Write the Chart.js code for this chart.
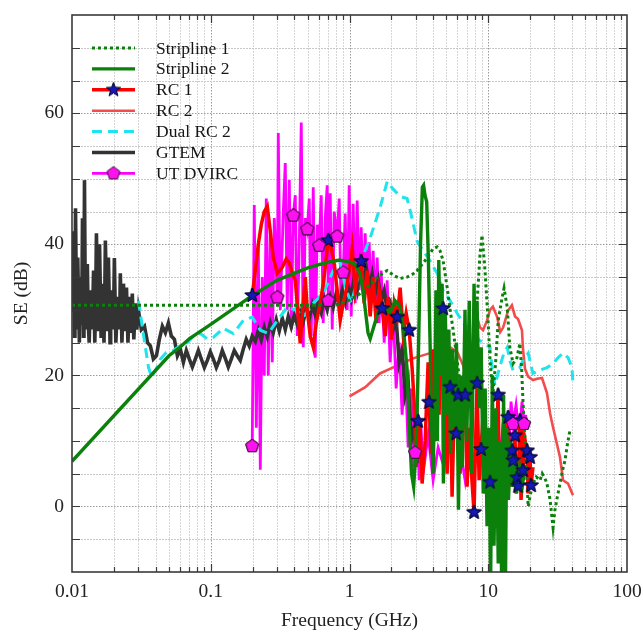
<!DOCTYPE html>
<html>
<head>
<meta charset="utf-8">
<script src="https://cdn.jsdelivr.net/npm/chart.js@4.4.1/dist/chart.umd.min.js"></script>
<style>
  html, body { margin: 0; padding: 0; background: #fff; }
</style>
</head>
<body>
<canvas id="se" width="644" height="631"></canvas>
<script>
// ---- data: [frequency GHz, shielding effectiveness dB] ----
const xTickLabels = ['0.01', '0.1', '1', '10', '100'];
const yTickLabels = ['0', '20', '40', '60'];
const seriesNames = ['Stripline 1', 'Stripline 2', 'RC 1', 'RC 2', 'Dual RC 2', 'GTEM', 'UT DVIRC'];

const stripline1 = [
  [0.01, 30.7], [0.5, 30.7], [0.8, 30.8], [1.0, 31.5], [1.2, 32.5], [1.4, 33.8], [1.66, 35.3], [1.87, 36],
  [2.1, 35.2], [2.32, 34.8], [2.6, 35], [2.88, 35.5], [3.07, 36], [3.5, 37.5], [4.0, 39.3], [4.28, 39.6],
  [4.5, 39], [4.73, 37.5], [5.05, 33.5], [5.31, 30], [5.58, 27], [5.97, 22.3], [6.4, 17], [6.9, 15],
  [7.3, 18], [7.65, 23.4], [8.3, 31], [8.73, 38.6], [9.02, 41.4], [9.48, 36], [9.97, 28.4], [10.3, 22.3],
  [10.8, 17], [11.3, 22], [11.8, 28.4], [12.6, 31.9], [13.0, 33.3], [13.7, 30.4], [14.3, 24.3], [15.1, 21.8],
  [16.1, 22.7], [16.9, 24.9], [17.4, 21], [17.8, 16], [18.5, 9.6], [19.4, 0], [20.2, 2], [21.0, 3.5],
  [22.2, 4.5], [23.6, 4], [24.5, 5], [25.6, 4.3], [26.5, 3.5], [27.9, 1], [29.3, -3.2], [30.2, -0.6],
  [31.5, 1.5], [32.9, 3.5], [34.3, 5.5], [35.7, 7], [37.2, 9.5], [38.8, 11.6]
];

const stripline2 = [
  [0.01, 6.9], [0.05, 23.0], [0.06, 24.3], [0.07, 25.6], [0.1, 27.8], [0.2, 32.2], [0.3, 34.5], [0.5, 36.4],
  [0.7, 37.3], [0.85, 37.6], [1.0, 37.3], [1.1, 37.0], [1.19, 35.5], [1.25, 33], [1.3, 30], [1.36, 26.5],
  [1.41, 25.6], [1.5, 27.5], [1.6, 29.5], [1.72, 30.4], [1.85, 30.2], [1.96, 29.6], [2.06, 30.6], [2.13, 31.4],
  [2.25, 30.8], [2.32, 30.4], [2.45, 27], [2.6, 21], [2.7, 12], [2.8, 5], [2.9, 3], [3.0, 8],
  [3.07, 14], [3.15, 25], [3.25, 40], [3.35, 48.7], [3.42, 49], [3.5, 47.5], [3.6, 46.5], [3.7, 38],
  [3.8, 26], [3.9, 13], [4.0, 5], [4.1, 15], [4.2, 33], [4.3, 10], [4.4, 37.6], [4.55, 20],
  [4.65, 34], [4.75, 3.5], [4.9, 30.4], [5.05, 14], [5.2, 27], [5.35, 8], [5.5, 24], [5.7, 12],
  [5.9, 25], [6.1, -0.5], [6.3, 20], [6.5, 6], [6.8, 30], [7.0, 10], [7.3, 31.4], [7.6, 5],
  [7.9, 34], [8.1, 18], [8.3, 31.4], [8.6, 15], [8.9, 24.3], [9.2, 2], [9.5, 18], [9.8, -3],
  [10.1, 12], [10.4, -12], [10.7, 20], [11.0, -6], [11.4, 15], [11.8, -8.7], [12.1, 10], [12.5, -12],
  [12.9, 17], [13.3, -12], [13.6, 12], [14.0, 1], [14.5, 10], [15.0, 3], [15.5, 8], [16.0, 2],
  [16.8, 6], [17.5, 3], [18.2, 5]
];

const rc1 = [
  [0.199, 32.2], [0.2095, 36], [0.2202, 40], [0.2313, 43], [0.243, 45], [0.2555, 45.8], [0.2686, 42], [0.2822, 38],
  [0.3017, 35.6], [0.3277, 36.5], [0.3501, 37.8], [0.3681, 37.2], [0.387, 35.6], [0.4066, 34.5], [0.4202, 31], [0.4416, 24.9],
  [0.4642, 31], [0.4799, 35], [0.4961, 29.9], [0.5214, 26], [0.5479, 24.3], [0.5758, 28], [0.615, 31], [0.6467, 34],
  [0.6685, 36.5], [0.7025, 40.6], [0.7382, 39.5], [0.7759, 37], [0.8155, 33], [0.857, 28.4], [0.9007, 31], [0.9468, 33],
  [0.995, 36], [1.046, 39.5], [1.099, 33], [1.155, 36], [1.214, 37.4], [1.276, 31], [1.341, 36], [1.409, 29],
  [1.481, 35], [1.557, 28], [1.636, 33], [1.72, 30.2], [1.808, 26], [1.9, 32], [1.997, 25.5], [2.099, 31],
  [2.206, 28.9], [2.318, 33.4], [2.437, 26.5], [2.561, 29.5], [2.691, 26.9], [2.829, 21], [2.923, 16], [3.02, 6],
  [3.122, 13], [3.228, 12], [3.337, 3.5], [3.508, 10], [3.687, 22], [3.748, 15.9], [3.874, 8], [4.005, 24],
  [4.14, 10], [4.28, 27], [4.424, 14], [4.573, 31], [4.727, 30.2], [4.886, 19], [5.051, 5], [5.221, 15],
  [5.309, 18.2], [5.487, 1.5], [5.672, 14], [5.864, 11.1], [6.06, 17], [6.264, 5], [6.477, 13], [6.808, 17],
  [7.04, 3], [7.27, 12], [7.52, 6], [7.9, -0.9], [8.17, 13], [8.31, 18.8], [8.59, 4], [8.88, 8.7],
  [9.18, 14], [9.49, 2], [9.8, 10], [10.3, 3.7], [10.65, 12], [11.0, 0], [11.4, 9], [11.77, 17],
  [12.17, -1.6], [12.58, 8], [13.0, 14], [13.4, 2], [13.9, 13.6], [14.36, 3], [14.84, 8.5], [15.09, 7],
  [15.6, 10.8], [15.86, 2], [16.12, 4.4], [16.39, 3.1], [16.94, 13.1], [17.22, 1], [17.8, 5.5], [18.1, 11],
  [19.03, 8.5], [19.35, 2], [20.0, 7.5], [20.34, 3.2], [21.0, 6]
];
const rc1StarFreq = [0.199, 0.7025, 1.214, 1.72, 2.206, 2.691, 3.122, 3.748, 4.727, 5.309, 5.864, 6.06, 6.808,
  7.9, 8.31, 8.88, 10.3, 11.77, 13.9, 14.84, 15.09, 15.6, 16.12, 16.39, 16.94, 17.8, 19.03, 20.0, 20.34];

const rc2 = [
  [1.0, 16.8], [1.3, 18.2], [1.66, 20.3], [2.2, 21.5], [2.87, 22.6], [3.81, 23.4], [4.5, 23.8], [5.3, 24.3],
  [6.0, 23.5], [6.6, 21.5], [7.04, 19.3], [7.4, 21], [7.65, 23.4], [8.04, 28.9], [8.4, 28.5], [8.73, 27.3],
  [9.18, 26.9], [9.8, 28.4], [10.3, 30], [10.8, 30.5], [11.6, 28.9], [12.2, 26.6], [12.8, 27.3], [13.9, 29.9],
  [14.8, 30.7], [15.6, 29], [16.4, 28.6], [17.5, 26.9], [17.8, 24], [18.4, 21], [19.4, 19.8], [21.0, 19.3],
  [22.5, 19.5], [24.4, 19.6], [26.5, 17.3], [27.9, 14.2], [29.3, 12.1], [32.9, 7.5], [34.6, 4], [37.6, 3.5],
  [40.8, 1.7]
];

const dualRc2 = [
  [0.0301, 31.4], [0.0338, 24.3], [0.0356, 21.2], [0.0374, 19.8], [0.0405, 21], [0.0434, 22.5], [0.0478, 23.5], [0.0538, 23.8],
  [0.06, 24.5], [0.0679, 25], [0.075, 26], [0.0842, 26.4], [0.094, 25.6], [0.1044, 25.8], [0.1232, 27.2], [0.1454, 26.4],
  [0.1717, 28.4], [0.199, 28.9], [0.2276, 26.9], [0.26, 26.4], [0.302, 28.4], [0.356, 30.4], [0.42, 29.9], [0.464, 28.9],
  [0.548, 31], [0.647, 32.5], [0.763, 36], [0.857, 37.1], [0.95, 33], [1.03, 31], [1.12, 34], [1.23, 37.9],
  [1.41, 41], [1.66, 45.6], [1.87, 49.6], [2.05, 48.5], [2.32, 47.3], [2.6, 47], [2.75, 45], [3.07, 40.5],
  [3.4, 39], [3.81, 37.5], [4.3, 35.5], [4.73, 33], [5.31, 31.4], [5.97, 29.5], [6.59, 28], [7.39, 26.9],
  [8.73, 25.3], [10.3, 24.3], [10.8, 20], [11.2, 18.5], [12.0, 21], [13.0, 23.5], [13.7, 24.3], [14.3, 22.3],
  [15.1, 20.8], [16.9, 21.2], [17.8, 22.3], [19.4, 23.4], [21.0, 20.3], [23.6, 20.8], [26.5, 21.2], [29.3, 21.8],
  [31.8, 22.7], [34.6, 23.4], [37.6, 22.7], [40.1, 21.2], [40.8, 18.8]
];

const gtem = [
  [0.01, 30], [0.0101, 36], [0.01025, 42], [0.0104, 26], [0.0105, 33], [0.0106, 45.5], [0.0108, 27], [0.0109, 31],
  [0.011, 38], [0.0112, 29], [0.0113, 25], [0.0115, 35], [0.0117, 28], [0.0118, 33], [0.0119, 44], [0.0121, 26],
  [0.0122, 31], [0.0123, 49.8], [0.0125, 27], [0.0127, 32], [0.0129, 37], [0.0131, 28], [0.0133, 25], [0.0136, 33],
  [0.0139, 27], [0.0141, 30], [0.0143, 36], [0.0146, 25], [0.0148, 31], [0.015, 41.7], [0.0154, 27], [0.0156, 33],
  [0.0158, 40], [0.0162, 26], [0.0164, 30], [0.0166, 34], [0.017, 25], [0.0172, 31], [0.0174, 40.6], [0.0179, 27],
  [0.0181, 32], [0.0183, 38], [0.0188, 25], [0.019, 29], [0.0193, 33], [0.0197, 27], [0.02, 31], [0.0202, 37.9],
  [0.0207, 25], [0.021, 28], [0.0213, 32], [0.0218, 27], [0.0221, 30], [0.0223, 35.6], [0.0229, 25], [0.0232, 29],
  [0.0235, 34], [0.0241, 27], [0.0244, 30], [0.0247, 33.4], [0.0253, 25], [0.0256, 28], [0.0259, 32], [0.0266, 26.5],
  [0.0272, 32.5], [0.0279, 25.5], [0.0286, 31], [0.0293, 27], [0.0301, 30],
  [0.0316, 27], [0.0333, 27.5], [0.035, 25], [0.0367, 24.5], [0.0386, 22.5], [0.0406, 23], [0.0426, 25.5], [0.0448, 27.5],
  [0.0471, 26.5], [0.0495, 28], [0.052, 26], [0.0547, 25.5], [0.0575, 23], [0.0604, 24], [0.0635, 22], [0.0667, 23.8],
  [0.0701, 22.5], [0.0737, 21.3], [0.0774, 22.5], [0.0814, 23.8], [0.0855, 22.5], [0.0899, 21.2], [0.0945, 22.3], [0.0993, 23.6],
  [0.1044, 22.5], [0.1097, 21.2], [0.1153, 22.3], [0.1211, 23.8], [0.1273, 22.6], [0.1338, 21.3], [0.1406, 22.5], [0.1478, 23.8],
  [0.1553, 23], [0.1632, 22.3], [0.1715, 24], [0.1802, 25.5], [0.1894, 24.5], [0.199, 26], [0.2095, 25.2], [0.2202, 26.9],
  [0.2313, 25.4], [0.243, 27.4], [0.2555, 25.9], [0.2686, 28], [0.2822, 26.5], [0.2967, 28.5], [0.3118, 26.8], [0.3277, 28.7],
  [0.3444, 27], [0.362, 29], [0.3804, 27.4], [0.3998, 29.2], [0.4202, 27.8], [0.4416, 29.6], [0.4642, 28.2], [0.4879, 30.2],
  [0.5127, 28.6], [0.5388, 30.8], [0.5663, 29.2], [0.5952, 31.2], [0.6255, 29.6], [0.6574, 31.6], [0.6909, 30], [0.7261, 32],
  [0.7631, 30.4], [0.802, 32.5], [0.8429, 30.8], [0.8859, 33], [0.9312, 31.2], [0.9786, 33.8], [1.029, 31.8], [1.081, 35],
  [1.136, 33], [1.194, 37], [1.255, 34.5], [1.319, 36.5], [1.386, 33.5], [1.457, 35.5], [1.531, 32.5], [1.609, 34.5],
  [1.691, 31.5], [1.778, 33], [1.868, 30], [1.963, 31], [2.063, 27], [2.169, 28.5], [2.279, 22], [2.395, 24],
  [2.518, 17], [2.646, 19], [2.781, 10], [2.923, 12], [3.072, 6.6]
];

const utDvirc = [
  [0.199, 9.2], [0.2059, 46], [0.213, 12], [0.2202, 40], [0.2276, 5.6], [0.2353, 35], [0.243, 20], [0.2513, 47],
  [0.2598, 20], [0.2686, 42], [0.2776, 22], [0.287, 44], [0.3017, 31.9], [0.3067, 57], [0.3171, 30], [0.3334, 45],
  [0.3444, 52.4], [0.3561, 30], [0.3681, 49.8], [0.3804, 27], [0.3933, 44.4], [0.4066, 47.5], [0.4202, 26], [0.4345, 40],
  [0.4491, 58.6], [0.4642, 24.3], [0.4799, 44], [0.4961, 42.3], [0.5127, 47], [0.5301, 26], [0.5479, 48.7], [0.5663, 22.7],
  [0.5855, 43], [0.6052, 39.8], [0.6255, 47.5], [0.6467, 28], [0.6685, 44], [0.6909, 49], [0.7025, 31.4], [0.7261, 47.8],
  [0.7506, 27], [0.7759, 45], [0.8155, 41.2], [0.8429, 47], [0.8714, 29], [0.9007, 35.7], [0.9312, 44.7], [0.9626, 30],
  [0.995, 49], [1.029, 29], [1.063, 46.2], [1.099, 31], [1.136, 46.7], [1.174, 33], [1.214, 42.6], [1.255, 32],
  [1.297, 41.7], [1.341, 34], [1.386, 40.3], [1.433, 31], [1.481, 39], [1.531, 30], [1.583, 38], [1.636, 28],
  [1.691, 36], [1.778, 25], [1.868, 34.5], [1.963, 22], [2.063, 30], [2.169, 18], [2.279, 25], [2.395, 14],
  [2.518, 22], [2.646, 9], [2.781, 18], [2.875, 6], [2.972, 8.2], [3.072, 15], [3.176, 4], [3.282, 12],
  [3.393, 5], [3.687, 11], [4.005, 4], [4.351, 9], [4.806, 6], [5.309, 15], [5.579, 21], [5.864, 16.6],
  [6.26, 9], [6.808, 4], [7.39, 11], [7.903, 6], [8.306, 8.5], [8.87, 10.5], [9.643, 5], [10.3, 9],
  [11.19, 4], [12.2, 8], [13.0, 14], [13.9, 6], [14.6, 16], [15.09, 12.6], [15.86, 15.5], [16.67, 11],
  [17.52, 16], [18.1, 12.6], [18.7, 14]
];
const dvircMarkFreq = [0.199, 0.3017, 0.3933, 0.4961, 0.6052, 0.7025, 0.8155, 0.9007, 2.972, 15.09, 18.1];

// ---- styling helpers ----
const SERIF = '"Liberation Serif", "Times New Roman", serif';

function makeMarker(kind, fill, stroke, r) {
  const size = Math.ceil(r * 2 + 4);
  const c = document.createElement('canvas');
  c.width = c.height = size;
  const g = c.getContext('2d');
  g.translate(size / 2, size / 2);
  const n = kind === 'star' ? 10 : 5;
  g.beginPath();
  for (let i = 0; i < n; i++) {
    const ang = -Math.PI / 2 + i * 2 * Math.PI / n;
    const rr = kind === 'star' && i % 2 ? r * 0.42 : r;
    g.lineTo(rr * Math.cos(ang), rr * Math.sin(ang));
  }
  g.closePath();
  g.fillStyle = fill;
  g.fill();
  g.lineWidth = 1;
  g.strokeStyle = stroke;
  g.stroke();
  return c;
}

const starImg = makeMarker('star', '#1418b4', '#06062e', 7.5);
const pentImg = makeMarker('pent', '#ff10f0', '#3a1038', 6.8);
const legendMarkers = { 'RC 1': starImg, 'UT DVIRC': pentImg };

const toXY = pairs => pairs.map(([x, y]) => ({ x, y }));
const markAt = freqs => ctx => (ctx.raw && freqs.includes(ctx.raw.x) ? 6 : 0);

function line(label, pairs, color, width, order, extra) {
  return Object.assign({
    label,
    data: toXY(pairs),
    borderColor: color,
    backgroundColor: color,
    borderWidth: width,
    pointRadius: 0,
    pointHoverRadius: 0,
    tension: 0,
    fill: false,
    order,
  }, extra || {});
}

const datasets = [
  line(seriesNames[0], stripline1, '#0b800b', 3, 2, { borderDash: [3, 3] }),
  line(seriesNames[1], stripline2, '#0b800b', 3.4, 1),
  line(seriesNames[2], rc1, '#ff0000', 3.5, 3, { pointStyle: starImg, pointRadius: markAt(rc1StarFreq) }),
  line(seriesNames[3], rc2, '#f24c4c', 2.6, 7),
  line(seriesNames[4], dualRc2, '#1ee4ee', 3, 4, { borderDash: [10, 6] }),
  line(seriesNames[5], gtem, '#333333', 3.6, 5),
  line(seriesNames[6], utDvirc, '#ff00ff', 2.8, 6, { pointStyle: pentImg, pointRadius: markAt(dvircMarkFreq) }),
];

// ---- plugins: grid with inner ticks, markers on top, inside legend ----
const frameGrid = {
  id: 'frameGrid',
  beforeDatasetsDraw(chart) {
    const { ctx, chartArea: a, scales: { x, y } } = chart;
    ctx.save();
    ctx.lineWidth = 1;
    for (let e = -2; e < 2; e++) {
      for (let m = 1; m < 10; m++) {
        const v = m * Math.pow(10, e);
        if (v <= x.min || v >= x.max) continue;
        const px = Math.round(x.getPixelForValue(v)) + 0.5;
        ctx.strokeStyle = m === 1 ? '#9c9c9c' : '#d6d6d6';
        ctx.setLineDash(m === 1 ? [1.5, 1.5] : [2, 1]);
        ctx.beginPath(); ctx.moveTo(px, a.top); ctx.lineTo(px, a.bottom); ctx.stroke();
      }
    }
    for (let v = y.min + 5; v < y.max; v += 5) {
      const py = Math.round(y.getPixelForValue(v)) + 0.5;
      ctx.strokeStyle = v % 20 === 0 ? '#9c9c9c' : '#c8c8c8';
      ctx.setLineDash(v % 20 === 0 ? [1.5, 1.5] : [2, 1]);
      ctx.beginPath(); ctx.moveTo(a.left, py); ctx.lineTo(a.right, py); ctx.stroke();
    }
    ctx.restore();
  },
  afterDatasetsDraw(chart) {
    const { ctx, chartArea: a, scales: { x, y } } = chart;
    // stars and pentagons above every line
    chart.data.datasets.forEach((ds, i) => {
      if (!ds.pointStyle) return;
      chart.getDatasetMeta(i).data.forEach(el => el.draw(ctx, a));
    });
    ctx.save();
    ctx.strokeStyle = '#3a3a3a';
    ctx.lineWidth = 1.2;
    ctx.setLineDash([]);
    ctx.beginPath();
    for (let e = -2; e < 2; e++) {
      for (let m = 1; m < 10; m++) {
        const v = m * Math.pow(10, e);
        if (v <= x.min) continue;
        const px = Math.round(x.getPixelForValue(v)) + 0.5;
        const len = m === 1 ? 8 : 5;
        ctx.moveTo(px, a.bottom); ctx.lineTo(px, a.bottom - len);
        ctx.moveTo(px, a.top); ctx.lineTo(px, a.top + len);
      }
    }
    for (let v = y.min + 5; v < y.max; v += 5) {
      const py = Math.round(y.getPixelForValue(v)) + 0.5;
      ctx.moveTo(a.left, py); ctx.lineTo(a.left + 8, py);
      ctx.moveTo(a.right, py); ctx.lineTo(a.right - 8, py);
    }
    ctx.stroke();
    ctx.lineWidth = 1.6;
    ctx.strokeRect(a.left, a.top, a.right - a.left, a.bottom - a.top);
    ctx.restore();
  },
};

const insideLegend = {
  id: 'insideLegend',
  afterDraw(chart) {
    const { ctx, chartArea: a } = chart;
    ctx.save();
    chart.data.datasets.forEach((ds, i) => {
      const yy = a.top + 33 + i * 20.9;
      const x0 = a.left + 20, x1 = a.left + 63;
      ctx.beginPath();
      ctx.setLineDash(ds.borderDash || []);
      ctx.lineWidth = ds.borderWidth;
      ctx.strokeStyle = ds.borderColor;
      ctx.moveTo(x0, yy); ctx.lineTo(x1, yy);
      ctx.stroke();
      ctx.setLineDash([]);
      const img = legendMarkers[ds.label];
      if (img) ctx.drawImage(img, (x0 + x1) / 2 - img.width / 2, yy - img.height / 2);
      ctx.font = '17.5px ' + SERIF;
      ctx.fillStyle = '#151515';
      ctx.textBaseline = 'middle';
      ctx.fillText(ds.label, a.left + 84, yy + 1);
    });
    ctx.restore();
  },
};

const isDecade = v => Math.abs(Math.log10(v) - Math.round(Math.log10(v))) < 1e-6;

new Chart(document.getElementById('se'), {
  type: 'line',
  data: { datasets },
  options: {
    responsive: false,
    animation: false,
    devicePixelRatio: 1,
    events: [],
    layout: { padding: { top: 15, right: 17, left: 0, bottom: 0 } },
    plugins: { legend: { display: false }, tooltip: { enabled: false } },
    scales: {
      x: {
        type: 'logarithmic',
        min: 0.01,
        max: 100,
        grid: { display: false, drawTicks: false },
        border: { display: false },
        ticks: {
          autoSkip: false,
          maxRotation: 0,
          padding: 8,
          color: '#222',
          font: { family: SERIF, size: 19.5 },
          callback: v => (isDecade(v) ? xTickLabels[Math.round(Math.log10(v)) + 2] : ''),
        },
        title: {
          display: true,
          text: 'Frequency (GHz)',
          color: '#222',
          font: { family: SERIF, size: 19.5, lineHeight: 1.0 },
          padding: { top: 0, bottom: 0 },
        },
        afterFit: s => { s.height = 59; s.paddingLeft = 0; s.paddingRight = 0; },
      },
      y: {
        min: -10,
        max: 75,
        grid: { display: false, drawTicks: false },
        border: { display: false },
        ticks: {
          stepSize: 5,
          padding: 8,
          color: '#222',
          font: { family: SERIF, size: 19.5 },
          callback: v => (v >= 0 && v % 20 === 0 ? yTickLabels[v / 20] : ''),
        },
        title: {
          display: true,
          text: 'SE (dB)',
          color: '#222',
          font: { family: SERIF, size: 19.5 },
          padding: { top: 10, bottom: 0 },
        },
        afterFit: s => { s.width = 72; s.paddingTop = 0; s.paddingBottom = 0; },
      },
    },
  },
  plugins: [frameGrid, insideLegend],
});
</script>
</body>
</html>
